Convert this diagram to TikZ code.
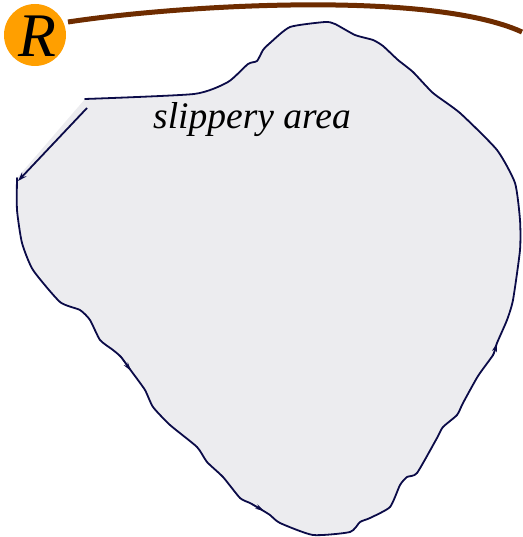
\documentclass[tikz,border=0pt]{standalone}
\usepackage{fontspec}
\setmainfont{Liberation Serif}
\usetikzlibrary{arrows.meta}
\definecolor{navy}{HTML}{0B0B48}
\definecolor{areafill}{HTML}{ECECEF}
\definecolor{robotorange}{HTML}{FF9F00}
\definecolor{pathbrown}{HTML}{6E2C00}
\tikzset{
  outline/.style={draw=navy, line width=1.8pt, line join=round, line cap=round},
  tip/.style={navy, line width=1.2pt, -{Stealth[length=9pt,width=5pt]}},
  label/.style={font=\fontsize{37.5}{40}\selectfont\itshape, inner sep=0pt, anchor=base},
}
\begin{document}
\begin{tikzpicture}[x=1pt,y=-1pt]
\useasboundingbox (0,0) rectangle (522,537);
\def\outlinepts{(17,178) (17,210) (22,243) (33,270) (60,302) (80,310) (90,320) (100,340) (113,350) (121,357) (132,372) (145,390) (153,407) (170,425) (197,447) (207,462) (223,477) (240,498) (250,503) (262,510) (270,515) (280,523) (313,535) (350,532) (360,522) (370,518) (390,507) (400,485) (407,477) (417,473) (437,438) (443,427) (457,415) (463,403) (478,376) (493,355) (497,343) (507,320) (513,300) (520,250) (520,220) (515,183) (497,150) (460,113) (433,93) (413,72) (398,60) (383,46) (373,40) (355,35) (335,24) (325,22) (290,27) (270,43) (263,50) (257,61) (248,64) (228,82) (194,94) (85,99)}
% fill
\fill[areafill] plot[smooth, tension=0.35] coordinates {\outlinepts} -- cycle;
% outline
\draw[outline] plot[smooth, tension=0.35] coordinates {\outlinepts};
% final arrow
\coordinate (a1) at (87,108);
\coordinate (a2) at (18,181);
\draw[navy, line width=1.8pt, -{Stealth[length=9pt,width=6pt,open]}] (a1) -- (a2);
% small direction marks along the outline
\coordinate (m1s) at (121,357); \coordinate (m1e) at (131,371);
\draw[tip] (m1s) -- (m1e);
\coordinate (m2s) at (252,504); \coordinate (m2e) at (264,511);
\draw[tip] (m2s) -- (m2e);
\coordinate (m3s) at (493,356); \coordinate (m3e) at (497,343);
\draw[tip] (m3s) -- (m3e);
% brown trajectory
\coordinate (t1) at (68,22);
\coordinate (t2) at (522,32);
\draw[pathbrown, line width=5pt] (t1) .. controls (180,5) and (430,-10) .. (t2);
% robot
\node[circle, fill=robotorange, minimum size=62pt, inner sep=0pt] (R) at (35,35) {};
\node[font=\fontsize{62}{64}\selectfont\itshape, inner sep=0pt] (Rl) at (37,36) {R};
% label
\node[label] (lbl) at (252,129) {slippery area};
\end{tikzpicture}
\end{document}
